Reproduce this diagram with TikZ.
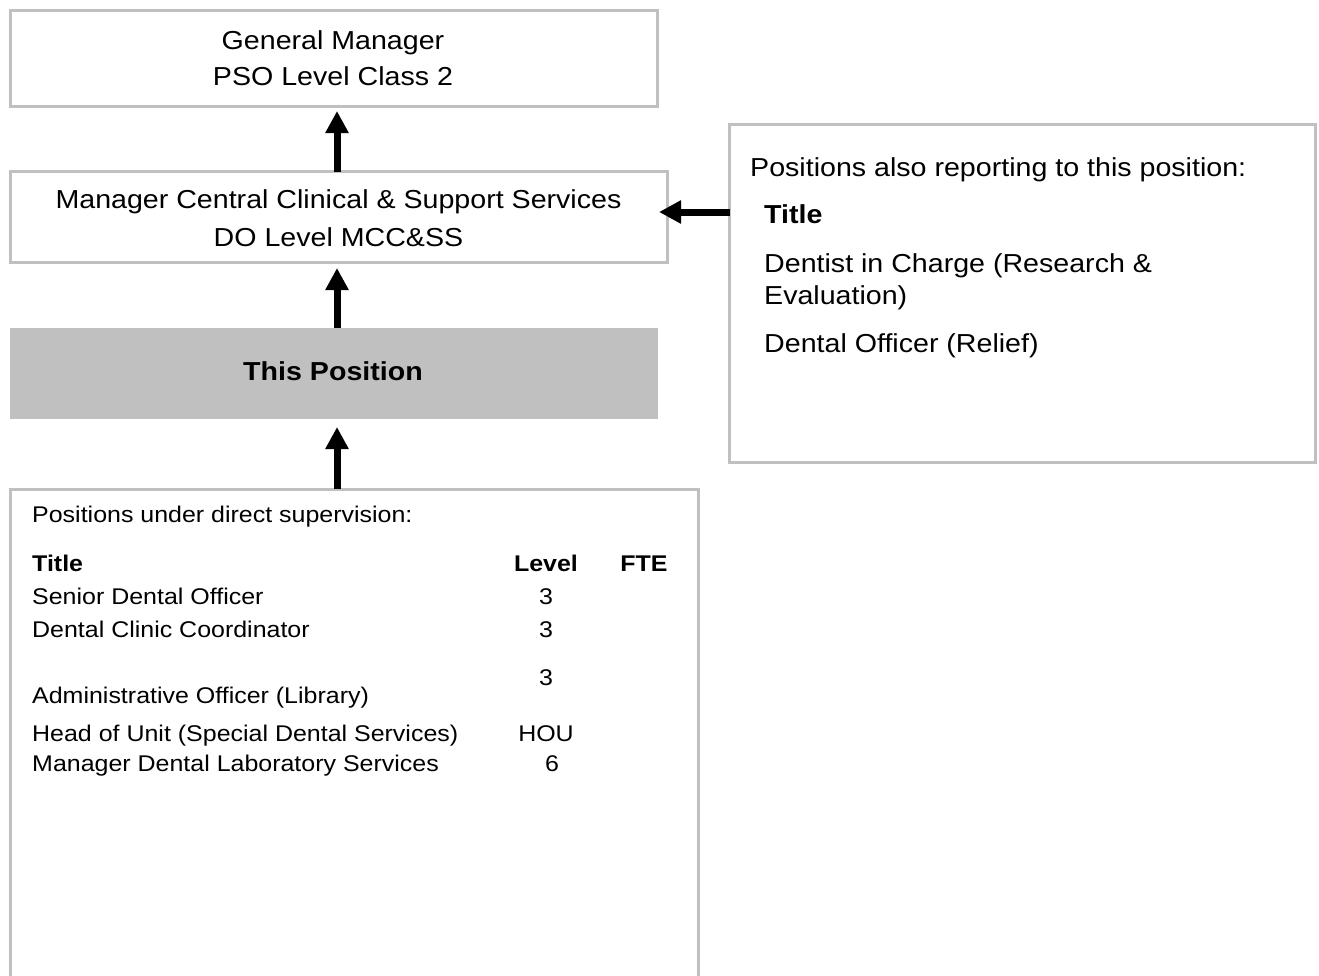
\documentclass[tikz,border=0pt]{standalone}
\usepackage{fontspec}
\setmainfont{Liberation Sans}
\usetikzlibrary{arrows.meta}
\definecolor{boxgray}{HTML}{C0C0C0}
\newcommand{\widetxt}[1]{\scalebox{1.1}[1]{#1}}
\begin{document}
\begin{tikzpicture}[x=1pt,y=-1pt,
  box/.style={draw=boxgray, line width=3pt, rectangle, outer sep=0pt, inner sep=0pt},
  big/.style={font=\fontsize{26}{32}\selectfont, inner sep=0pt, anchor=base},
  bigl/.style={big, anchor=base west},
  small/.style={font=\fontsize{22.7}{28}\selectfont, inner sep=0pt, anchor=base west},
  smallc/.style={font=\fontsize{22.7}{28}\selectfont, inner sep=0pt, anchor=base},
  conn/.style={line width=7pt, -{Triangle[width=22pt,length=22pt]}},
]
\useasboundingbox (0,0) rectangle (1319,975);
\clip (0,0) rectangle (1319,975);

% boxes
\node[box, minimum width=647pt, minimum height=96.5pt] (gm) at (333.5,58.25) {};
\node[box, minimum width=657pt, minimum height=90.5pt] (mcc) at (338.5,216.75) {};
\node[rectangle, fill=boxgray, outer sep=0pt, inner sep=0pt, minimum width=648pt, minimum height=91pt] (this) at (334,373.5) {};
\node[box, minimum width=586pt, minimum height=338pt] (right) at (1022.5,293.5) {};
\node[box, minimum width=687.5pt, minimum height=520pt] (sub) at (354.25,749) {};

% top texts
\node[big] (gm1) at (333,49.5) {\widetxt{General Manager}};
\node[big] (gm2) at (333,85) {\widetxt{PSO Level Class 2}};
\node[big] (mcc1) at (338.5,208.5) {\widetxt{Manager Central Clinical \& Support Services}};
\node[big] (mcc2) at (338.5,246) {\widetxt{DO Level MCC\&SS}};
\node[big, font=\fontsize{26}{32}\selectfont\bfseries] (this1) at (333,380.5) {\widetxt{This Position}};

% right box texts
\node[bigl] (r1) at (750,176) {\widetxt{Positions also reporting to this position:}};
\node[bigl, font=\fontsize{26}{32}\selectfont\bfseries] (r2) at (764,223) {\widetxt{Title}};
\node[bigl] (r3) at (764,272) {\widetxt{Dentist in Charge (Research \&}};
\node[bigl] (r4) at (764,304) {\widetxt{Evaluation)}};
\node[bigl] (r5) at (764,352) {\widetxt{Dental Officer (Relief)}};

% bottom box texts
\node[small] (s0) at (32,522.7) {\widetxt{Positions under direct supervision:}};
\node[small, font=\fontsize{22.7}{28}\selectfont\bfseries] (sh1) at (32,571.7) {\widetxt{Title}};
\node[smallc, font=\fontsize{22.7}{28}\selectfont\bfseries] (sh2) at (546,571.7) {\widetxt{Level}};
\node[smallc, font=\fontsize{22.7}{28}\selectfont\bfseries] (sh3) at (644,571.7) {\widetxt{FTE}};
\node[small] (sa) at (32,604) {\widetxt{Senior Dental Officer}};
\node[smallc] (la) at (546,604) {\widetxt{3}};
\node[small] (sb) at (32,637.5) {\widetxt{Dental Clinic Coordinator}};
\node[smallc] (lb) at (546,637.5) {\widetxt{3}};
\node[small] (sc) at (32,703.5) {\widetxt{Administrative Officer (Library)}};
\node[smallc] (lc) at (546,685.5) {\widetxt{3}};
\node[small] (sd) at (32,741.5) {\widetxt{Head of Unit (Special Dental Services)}};
\node[smallc] (ld) at (546,741.5) {\widetxt{HOU}};
\node[small] (se) at (32,771.5) {\widetxt{Manager Dental Laboratory Services}};
\node[smallc] (le) at (552,771.5) {\widetxt{6}};

% connectors
\coordinate (axis) at (337,0);
\coordinate (hline) at (0,212);
\draw[conn, shorten >=4.5pt] (mcc.north -| axis) -- (gm.south -| axis);
\draw[conn, shorten >=6pt] (this.north -| axis) -- (mcc.south -| axis);
\draw[conn, shorten >=8pt] (sub.north -| axis) -- (this.south -| axis);
\draw[conn, shorten >=-8pt] (right.west |- hline) -- (mcc.east |- hline);
\end{tikzpicture}
\end{document}
